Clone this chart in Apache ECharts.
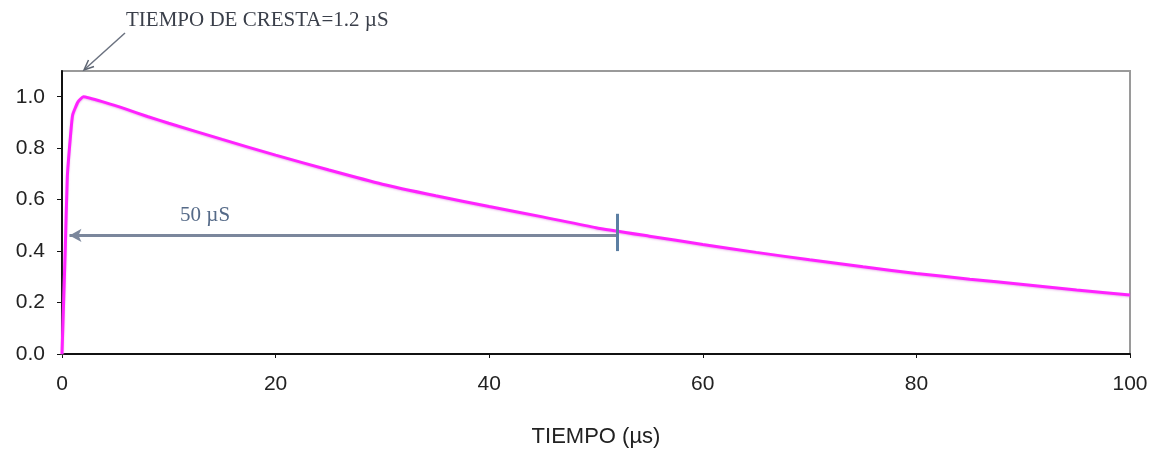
<!DOCTYPE html>
<html>
<head>
<meta charset="utf-8">
<script src="https://cdn.jsdelivr.net/npm/echarts@6/dist/echarts.min.js"></script>
<style>html,body{margin:0;padding:0;background:#fff}#c{width:1153px;height:453px}</style>
</head>
<body>
<div id="c"></div>
<script>
// Time (µs) and normalized voltage
const tiempo = [0, 0.3, 0.5, 0.8, 1.0, 1.5, 2.0, 4, 6, 8, 10, 15, 20, 25, 30, 35, 40, 45, 50, 55, 60, 65, 70, 75, 80, 85, 90, 95, 100];
const voltaje = [0, 0.40, 0.69, 0.85, 0.93, 0.98, 1.0, 0.978, 0.952, 0.923, 0.897, 0.834, 0.773, 0.715, 0.660, 0.615, 0.573, 0.533, 0.491, 0.458, 0.426, 0.395, 0.366, 0.339, 0.313, 0.291, 0.27, 0.249, 0.229];
const xTicks = [0, 20, 40, 60, 80, 100];
const yTicks = [0, 0.2, 0.4, 0.6, 0.8, 1.0];
const crestText = 'TIEMPO DE CRESTA=1.2 µS';
const tailText = '50 µS';
const tailArrow = [[0.7, 0.461], [52, 0.461]];
const tailTick = [[52, 0.545], [52, 0.40]];
const xName = 'TIEMPO (µs)';

const chart = echarts.init(document.getElementById('c'), null, {renderer: 'canvas'});
chart.setOption({
  backgroundColor: '#ffffff',
  animation: false,
  grid: {left: 62, right: 23, top: 71, bottom: 99, show: true, borderColor: '#9a9a9a', borderWidth: 2, backgroundColor: 'transparent'},
  xAxis: {
    type: 'value', min: 0, max: 100, interval: 20,
    name: xName, nameLocation: 'middle', nameGap: 72,
    nameTextStyle: {fontFamily: 'Liberation Sans', fontSize: 22, color: '#222'},
    axisLine: {lineStyle: {color: '#111', width: 2}},
    axisTick: {show: true, length: 4, lineStyle: {color: '#111', width: 1}, customValues: xTicks},
    axisLabel: {fontFamily: 'Liberation Sans', fontSize: 21, color: '#222', margin: 20, customValues: xTicks},
    splitLine: {show: false}
  },
  yAxis: {
    type: 'value', min: 0, max: 1.1, interval: 0.2,
    axisLine: {show: true, lineStyle: {color: '#111', width: 2}},
    axisTick: {show: true, length: 5, lineStyle: {color: '#111', width: 1}, customValues: yTicks},
    axisLabel: {fontFamily: 'Liberation Sans', fontSize: 21, color: '#222', margin: 17, customValues: yTicks,
      formatter: v => v.toFixed(1)},
    splitLine: {show: false}
  },
  graphic: [
    {type: 'text', left: 126, top: 10, style: {text: crestText, font: '21px "Liberation Serif"', fill: '#3a3f4a'}},
    {type: 'line', shape: {x1: 125, y1: 33, x2: 85, y2: 69}, style: {stroke: '#6b7280', lineWidth: 1.5}},
    {type: 'polyline', shape: {points: [[94, 66.5], [84, 70], [88.5, 60]]}, style: {stroke: '#5d6572', lineWidth: 1.5, fill: null}}
  ],
  series: [{
    type: 'line',
    data: tiempo.map((t, i) => [t, voltaje[i]]),
    showSymbol: false,
    smooth: 0.15,
    clip: false,
    lineStyle: {color: '#ff22ff', width: 3, shadowColor: 'rgba(220,150,220,0.6)', shadowBlur: 2, shadowOffsetY: 1},
    markLine: {
      silent: true,
      animation: false,
      label: {show: false},
      data: [
        [{coord: tailArrow[0], symbol: 'arrow', symbolSize: [10, 12], lineStyle: {color: '#7b879c', width: 3, type: 'solid'}},
         {coord: tailArrow[1], symbol: 'none'}],
        [{coord: tailTick[0], symbol: 'none', lineStyle: {color: '#5c7fa3', width: 3, type: 'solid'}},
         {coord: tailTick[1], symbol: 'none'}]
      ]
    },
    markPoint: {
      silent: true,
      symbol: 'circle', symbolSize: 0,
      data: [
        {coord: [13.4, 0.54], label: {show: true, formatter: tailText, fontFamily: 'Liberation Serif', fontSize: 21, color: '#556a88', position: 'inside'}}
      ]
    }
  }]
});
</script>
</body>
</html>
